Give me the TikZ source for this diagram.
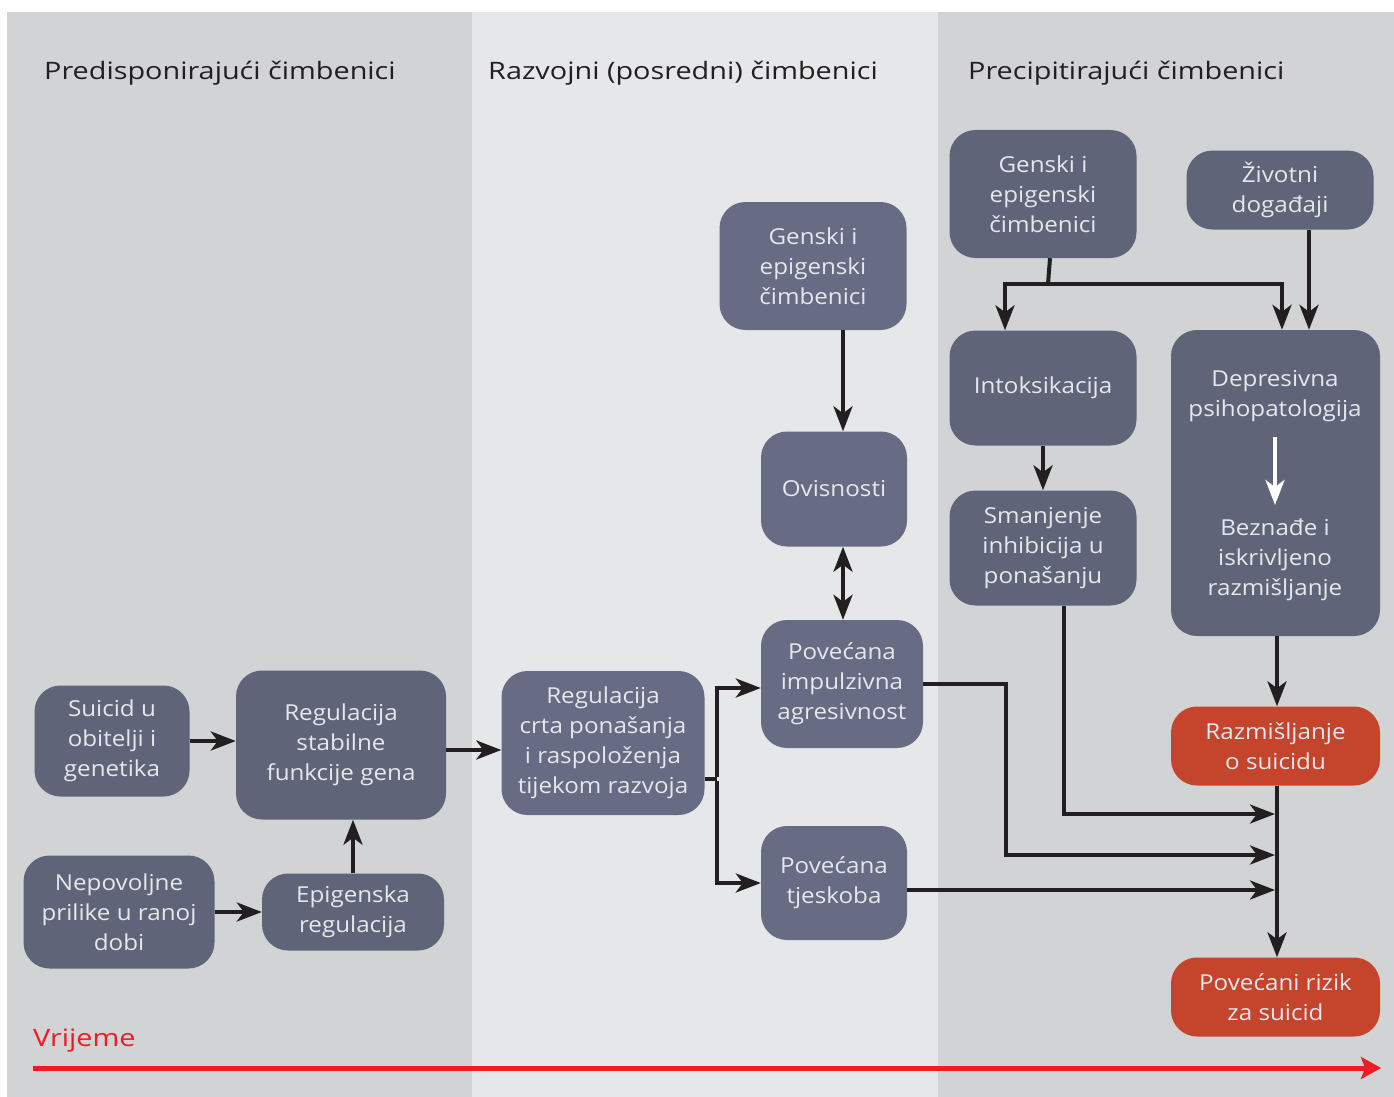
\documentclass[tikz,border=0pt]{standalone}
\usepackage{fontspec}
\setmainfont{Open Sans}
\newfontfamily\titlefont[FakeStretch=1.2]{Open Sans}
\newfontfamily\boxfont[FakeStretch=1.1]{Open Sans}
\usetikzlibrary{arrows.meta,calc}
\definecolor{panelA}{HTML}{D1D3D4}
\definecolor{panelB}{HTML}{E6E7E8}
\definecolor{boxc}{HTML}{5F6479}
\definecolor{boxm}{HTML}{676B83}
\definecolor{redbox}{HTML}{C4452B}
\definecolor{boxtext}{HTML}{E6E7EC}
\definecolor{linec}{HTML}{231F20}
\definecolor{timec}{HTML}{EE1C25}
\begin{document}
\begin{tikzpicture}[x=1pt,y=-1pt,
  box/.style={draw=none, fill=boxc, rounded corners=26pt, text=boxtext, align=center,
    font=\boxfont\fontsize{22}{30}\selectfont, inner sep=0pt},
  mbox/.style={box, fill=boxm},
  redb/.style={box, fill=redbox},
  boxtxt/.style={align=center, text=boxtext, font=\boxfont\fontsize{22}{30}\selectfont, inner sep=0pt},
  title/.style={anchor=west, text=linec, font=\titlefont\fontsize{24}{28}\selectfont, inner sep=0pt},
  conn/.style={draw=linec, line width=4pt},
  arr/.style={conn, -{Stealth[length=25pt,width=19pt,inset=7pt]}},
  warr/.style={draw=white, line width=4pt, -{Stealth[length=25pt,width=19pt,inset=7pt]}},
  tarr/.style={draw=timec, line width=5pt, -{Stealth[length=20pt,width=22pt,inset=4pt]}}
]
% background
\useasboundingbox (0,0) rectangle (1394,1097);
\fill[white] (0,0) rectangle (1394,1097);
\fill[panelA] (7,12) rectangle (472,1097);
\fill[panelB] (472,12) rectangle (938,1097);
\fill[panelA] (938,12) rectangle (1394,1097);

% titles
\node[title] (t1) at (44,73) {Predisponirajući čimbenici};
\node[title] (t2) at (488,73) {Razvojni (posredni) čimbenici};
\node[title] (t3) at (968,73) {Precipitirajući čimbenici};

% left panel
\node[box, minimum width=155pt, minimum height=111pt] (suic) at (112,741) {Suicid u\\obitelji i\\genetika};
\node[box, minimum width=210pt, minimum height=149pt] (reg1) at (341,745) {Regulacija\\stabilne\\funkcije gena};
\node[box, minimum width=191pt, minimum height=113pt] (nep) at (119,912) {Nepovoljne\\prilike u ranoj\\dobi};
\node[box, minimum width=182pt, minimum height=77pt] (epi) at (353,912) {Epigenska\\regulacija};

% middle panel
\node[mbox, minimum width=203pt, minimum height=144pt] (reg2) at (603,743) {Regulacija\\crta ponašanja\\i raspoloženja\\tijekom razvoja};
\node[mbox, minimum width=187pt, minimum height=128pt] (gen1) at (813,266) {Genski i\\epigenski\\čimbenici};
\node[mbox, minimum width=146pt, minimum height=115pt] (ovi) at (834,489) {Ovisnosti};
\node[mbox, minimum width=162pt, minimum height=128pt] (imp) at (842,684) {Povećana\\impulzivna\\agresivnost};
\node[mbox, minimum width=146pt, minimum height=114pt] (tje) at (834,883) {Povećana\\tjeskoba};

% right panel
\node[box, minimum width=187pt, minimum height=128pt] (gen2) at (1043,194) {Genski i\\epigenski\\čimbenici};
\node[box, minimum width=187pt, minimum height=79pt] (ziv) at (1280,190) {Životni\\događaji};
\node[box, minimum width=187pt, minimum height=115pt] (intox) at (1043,388) {Intoksikacija};
\node[box, minimum width=187pt, minimum height=115pt] (sma) at (1043,548) {Smanjenje\\inhibicija u\\ponašanju};
\node[box, minimum width=209pt, minimum height=306pt] (dep) at (1275.5,483) {};
\node[boxtxt] (dep1) at (1275,396) {Depresivna\\psihopatologija};
\node[boxtxt] (dep2) at (1275,560) {Beznađe i\\iskrivljeno\\razmišljanje};
\node[redb, minimum width=209pt, minimum height=79pt] (razm) at (1275.5,746) {Razmišljanje\\o suicidu};
\node[redb, minimum width=209pt, minimum height=79pt] (riz) at (1275.5,997) {Povećani rizik\\za suicid};

% time axis
\node[anchor=west, text=timec, font=\titlefont\fontsize{24}{28}\selectfont, inner sep=0pt] (vr) at (33,1041) {Vrijeme};
\coordinate (ts) at (33,1068);
\coordinate (te) at (1381,1068);
\draw[tarr] (ts) -- (te);

% connectors, left
\draw[arr] (suic.east) -- (suic.east -| reg1.west);
\draw[arr] (nep.east) -- (nep.east -| epi.west);
\draw[arr] (epi.north) -- (epi.north |- reg1.south);
\draw[arr] ([yshift=-5pt]reg1.east) -- ([yshift=-5pt]reg1.east -| reg2.west);

% split from reg2
\coordinate (sp) at (717,779);
\draw[conn] (reg2.east |- sp) -- (sp);
\draw[arr] ([yshift=2pt]sp) |- ([yshift=-4pt]imp.west);
\draw[arr] ([yshift=-2pt]sp) |- (tje.west);

% middle vertical
\draw[arr] ([xshift=30pt]gen1.south) -- ([xshift=30pt]gen1.south |- ovi.north);
\draw[conn, {Stealth[length=25pt,width=19pt,inset=7pt]}-{Stealth[length=25pt,width=19pt,inset=7pt]}] ([xshift=9pt]ovi.south) -- ([xshift=9pt]ovi.south |- imp.north);

% merge lines on the right
\coordinate (m1) at (1275,814);
\coordinate (m2) at (1275,855);
\coordinate (m3) at (1275,890);
\draw[arr] ([xshift=21pt]sma.south) |- (m1);
\draw[arr] (imp.east) -| (1006,855) -- (m2);
\draw[arr] (tje.east |- m3) -- (m3);

% right panel top
\coordinate (j1) at (1048,284);
\draw[conn] ([xshift=7pt]gen2.south) -- (j1);
\draw[arr] ([xshift=2pt]j1) -| ([xshift=-38pt]intox.north);
\draw[arr] ([xshift=-2pt]j1) -| ([xshift=6.5pt]dep.north);
\draw[arr] ([xshift=29pt]ziv.south) -- ([xshift=29pt]ziv.south |- dep.north);
\draw[arr] (intox.south) -- (sma.north);
\draw[warr] (1275,437) -- (1275,505);
\draw[arr] ([xshift=1.5pt]dep.south) -- ([xshift=1.5pt]razm.north);
\draw[arr] ([xshift=1.5pt]razm.south) -- ([xshift=1.5pt]riz.north);
\end{tikzpicture}
\end{document}
